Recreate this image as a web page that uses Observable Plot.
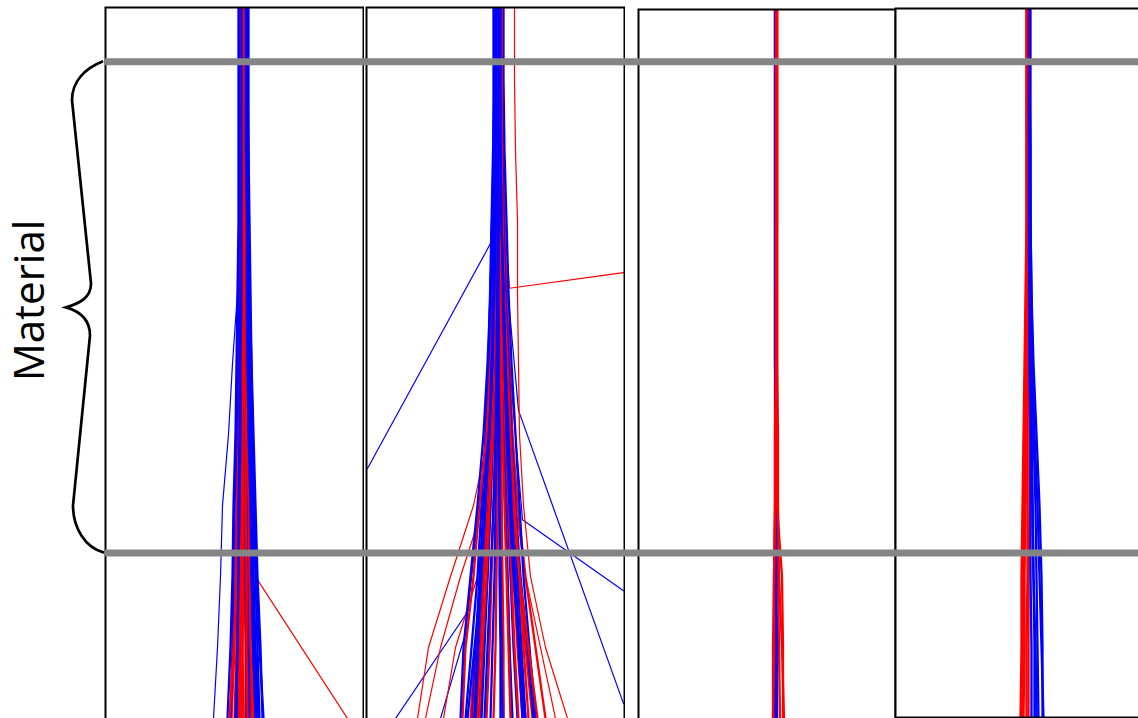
<!DOCTYPE html>
<html>
<head>
<meta charset="utf-8">
<script src="https://cdn.jsdelivr.net/npm/d3@7"></script>
<script src="https://cdn.jsdelivr.net/npm/@observablehq/plot@0.6"></script>
<style>
  html, body { margin: 0; padding: 0; background: #fff; overflow: hidden; }
  #chart { position: relative; width: 1138px; height: 718px; overflow: hidden; background: #fff; }
  .panel { position: absolute; overflow: visible; }
  .panel svg { max-width: none !important; }
  svg.overlay { position: absolute; left: 0; top: 0; pointer-events: none; max-width: none !important; }
</style>
</head>
<body>
<div id="chart"></div>
<script>
// ---------- data (depth grid shared by all profiles) ----------
const depths = [0, 10, 20, 30, 40, 50, 60, 70, 80, 90, 100];
const boundaryDepths = [7.5, 76.7];
const layerLabel = "Material";
const labelDepth = 41.1;

// horizontal offset of each profile from its panel centre, at each depth
const panel1Red = [
  [6, 6, 6, 6, 5, 4, 3, 2, 1, 0, -3],
  [7, 7, 7, 7, 7, 6, 6, 5, 4, 3, 1],
  [8, 8, 8, 8, 9, 8, 8, 7, 7, 6, 5],
  [8, 8, 9, 9, 10, 10, 11, 11, 12, 13, 14],
  [9, 9, 9, 10, 10, 11, 12, 13, 14, 15, 17],
  [7, 7, 7, 6, 6, 5, 5, 4, 3, 2, 0],
  [8, 8, 8, 9, 9, 9, 10, 10, 10, 11, 11],
  [10, 10, 10, 11, 11, 12, 13, 14, 15, 16, 19],
  [6, 7, 7, 7, 8, 8, 9, 9, 9, 8, 7],
  [9, 9, 9, 9, 9, 8, 7, 6, 6, 5, 4],
  [7, 7, 8, 8, 8, 7, 6, 4, 2, -1, -5],
  [8, 8, 8, 8, 8, 8, 8, 8, 8, 8, 9],
  [7, 7, 7, 7, 7, 7, 7, 6, 6, 5, 5],
  [9, 9, 9, 10, 10, 10, 11, 11, 12, 12, 13]
];
const panel1Blue = [
  [10, 10, 10, 10, 11, 12, 14, 15, 16, 18, 20],
  [12, 12, 12, 13, 14, 16, 17, 19, 21, 23, 25],
  [13, 13, 14, 14, 15, 17, 18, 20, 22, 25, 29],
  [5, 5, 5, 5, 4, 3, 2, 0, -1, -2, -4],
  [11, 11, 11, 11, 12, 12, 13, 13, 14, 14, 15],
  [8, 8, 8, 8, 8, 7, 7, 6, 5, 5, 3],
  [4, 4, 4, 4, 3, 2, 1, -1, -2, -4, -7],
  [12, 12, 12, 12, 13, 14, 15, 17, 18, 20, 22],
  [9, 9, 9, 9, 10, 10, 10, 11, 11, 12, 12],
  [14, 14, 14, 15, 16, 17, 19, 21, 23, 26, 28],
  [11, 11, 11, 12, 12, 13, 14, 16, 17, 19, 21],
  [6, 6, 6, 6, 6, 5, 5, 4, 4, 3, 2],
  [13, 13, 13, 13, 14, 15, 16, 18, 19, 21, 24],
  [7, 7, 7, 7, 7, 6, 6, 5, 4, 3, 1]
];
const panel2Red = [
  [0, 0, 0, -1, -2, -4, -6, -10, -14, -20, -25],
  [2, 2, 2, 2, 1, 0, -2, -5, -8, -12, -15],
  [3, 3, 3, 3, 3, 3, 2, 2, 1, 0, -2],
  [4, 4, 5, 5, 6, 7, 8, 10, 12, 14, 16],
  [5, 5, 5, 6, 7, 9, 11, 14, 18, 22, 27],
  [6, 6, 7, 8, 9, 11, 14, 18, 23, 30, 37],
  [1, 1, 1, 0, -2, -5, -9, -16, -22, -30, -33],
  [7, 7, 8, 9, 11, 14, 17, 22, 30, 40, 50],
  [3, 3, 2, 1, 0, -2, -4, -7, -11, -15, -19],
  [4, 4, 4, 4, 5, 5, 6, 6, 7, 8, 8],
  [6, 6, 6, 7, 8, 10, 13, 17, 24, 33, 42],
  [3, 3, 3, 2, 1, -1, -3, -6, -9, -13, -17],
  [5, 5, 6, 6, 7, 8, 10, 13, 16, 19, 23],
  [2, 2, 2, 2, 2, 1, 0, -2, -4, -6, -9],
  [4, 4, 4, 5, 5, 6, 7, 9, 11, 13, 15],
  [1, 1, 1, 1, 0, -2, -5, -9, -13, -18, -22],
  [6, 6, 6, 7, 9, 12, 15, 19, 24, 28, 33]
];
const panel2Blue = [
  [-2, -2, -2, -3, -5, -7, -10, -14, -18, -24, -30],
  [0, 0, 0, -1, -3, -5, -8, -12, -16, -20, -23],
  [1, 1, 1, 1, 0, -1, -3, -5, -8, -11, -14],
  [2, 2, 2, 2, 2, 2, 1, 0, -1, -3, -5],
  [3, 3, 3, 4, 4, 5, 5, 6, 6, 7, 8],
  [4, 4, 4, 5, 6, 8, 9, 12, 15, 18, 22],
  [5, 5, 6, 7, 9, 11, 14, 18, 22, 26, 30],
  [6, 6, 7, 8, 10, 13, 16, 20, 25, 32, 38],
  [8, 8, 9, 11, 13, 16, 20, 24, 28, 34, 40],
  [-1, -1, -2, -3, -5, -8, -12, -18, -25, -32, -35],
  [1, 1, 0, -1, -2, -4, -6, -9, -13, -17, -20],
  [3, 3, 4, 5, 6, 7, 8, 10, 12, 14, 17],
  [2, 2, 2, 1, 0, -2, -5, -9, -14, -21, -28],
  [5, 5, 5, 6, 7, 9, 11, 14, 18, 24, 30],
  [2, 2, 2, 3, 3, 3, 4, 4, 4, 5, 5],
  [3, 3, 3, 3, 2, 1, 0, -2, -5, -8, -11],
  [4, 4, 5, 6, 8, 10, 12, 15, 19, 23, 27],
  [0, 0, 0, 0, -1, -3, -6, -10, -14, -18, -21],
  [1, 1, 1, 2, 2, 3, 3, 4, 5, 6, 7],
  [5, 5, 5, 6, 8, 10, 13, 16, 20, 24, 29]
];
const panel3Red = [
  [10, 10, 10, 10, 10, 10, 10, 9, 9, 8, 7],
  [10, 10, 10, 10, 10, 10, 10, 10, 11, 12, 13],
  [10, 10, 10, 10, 10, 10, 11, 11, 12, 15, 17],
  [9, 9, 9, 9, 9, 9, 9, 8, 7, 6, 6],
  [10, 10, 10, 10, 10, 10, 10, 10, 15, 16, 16],
  [10, 10, 10, 10, 9, 9, 8, 8, 7, 7, 6]
];
const panel3Blue = [
  [8, 8, 8, 8, 8, 8, 8, 8, 9, 9, 9],
  [9, 9, 9, 9, 9, 9, 9, 9, 9, 10, 10],
  [8, 8, 8, 8, 8, 8, 9, 9, 9, 8, 8]
];
const panel4Red = [
  [2, 2, 2, 2, 1, 0, -1, -2, -3, -3, -4],
  [3, 3, 3, 3, 3, 2, 2, 1, 0, 0, -1],
  [4, 4, 4, 4, 4, 4, 3, 3, 3, 2, 2],
  [3, 3, 3, 3, 2, 2, 1, 0, -1, -2, -3],
  [4, 4, 4, 5, 5, 5, 5, 5, 4, 4, 4],
  [2, 2, 2, 2, 2, 1, 0, -1, -2, -2, -2]
];
const panel4Blue = [
  [4, 4, 5, 5, 6, 8, 10, 13, 15, 17, 19],
  [5, 5, 5, 6, 7, 8, 9, 11, 12, 13, 14],
  [4, 4, 4, 5, 5, 6, 7, 8, 9, 10, 10],
  [5, 5, 6, 6, 7, 9, 12, 15, 17, 18, 18],
  [3, 3, 4, 4, 5, 5, 6, 6, 6, 7, 7],
  [6, 6, 6, 6, 6, 7, 7, 8, 9, 11, 12]
];
// profiles that leave the bundle (own depth readings, drawn thin)
const panel1Outliers = [
  {series: "red",  depth: [0, 30, 50, 70, 79.6, 100], offset: [6, 8, 10, 14, 19, 113]},
  {series: "blue", depth: [0, 10, 20, 30, 40, 50, 60, 70, 80, 90, 100], offset: [10, 9, 7, 5, 3, -2, -6, -12, -14, -17, -21]}
];
const panel2Outliers = [
  {series: "blue", depth: [0, 20, 33.1, 64.8], offset: [0, -1, -5, -128]},
  {series: "red",  depth: [0, 20, 39.4, 37.2], offset: [3, 4, 14, 128]},
  {series: "blue", depth: [0, 30, 56.6, 97.9], offset: [2, 6, 23, 128]},
  {series: "blue", depth: [0, 40, 72.0, 82.0], offset: [1, 8, 27, 128]},
  {series: "blue", depth: [0, 60, 85.0, 100], offset: [1, -8, -28, -100]},
  {series: "blue", depth: [0, 60, 88.0, 100], offset: [0, -9, -30, -55]},
  {series: "red",  depth: [0, 10, 20, 30, 40, 50, 60, 70, 80, 90, 100], offset: [2, 2, 2, 1, -1, -3, -7, -22, -45, -67, -78]},
  {series: "red",  depth: [0, 10, 20, 30, 40, 50, 60, 70, 80, 90, 100], offset: [4, 4, 4, 3, 2, 0, -3, -12, -35, -55, -70]},
  {series: "red",  depth: [0, 10, 20, 30, 40, 50, 60, 70, 80, 90, 100], offset: [5, 5, 5, 6, 7, 9, 12, 20, 30, 45, 60]},
  {series: "red",  depth: [0, 10, 20, 30, 40, 50, 60, 70, 80, 90, 100], offset: [19, 19, 20, 22, 22, 23, 24, 28, 35, 50, 72]},
  {series: "red",  depth: [0, 10, 20, 30, 40, 50, 60, 70, 80, 90, 100], offset: [1, 1, 1, 1, 0, -1, -3, -8, -18, -40, -52]}
];

// ---------- build tidy rows ----------
function gridRows(red, blue, tag) {
  const rows = [];
  const n = Math.max(red.length, blue.length);
  for (let i = 0; i < n; i++) {
    for (const [series, set] of [["red", red], ["blue", blue]]) {
      if (!set[i]) continue;
      set[i].forEach((v, j) => rows.push({id: `${tag}-${series}-${i}`, series, depth: depths[j], offset: v}));
    }
  }
  return rows;
}
function outlierRows(list, tag) {
  const rows = [];
  list.forEach((o, i) => o.depth.forEach((d, j) => rows.push({id: `${tag}-o-${i}`, series: o.series, depth: d, offset: o.offset[j]})));
  return rows;
}

const panels = [
  {core: gridRows(panel1Red, panel1Blue, "p1"), thin: outlierRows(panel1Outliers, "p1"), left: 104, top: 6, width: 260, height: 720},
  {core: gridRows(panel2Red, panel2Blue, "p2"), thin: outlierRows(panel2Outliers, "p2"), left: 365, top: 6, width: 260, height: 720},
  {core: gridRows(panel3Red, panel3Blue, "p3"), thin: [], left: 637, top: 8, width: 259, height: 720},
  {core: gridRows(panel4Red, panel4Blue, "p4"), thin: [], left: 894, top: 7, width: 260, height: 711}
];

const chart = document.getElementById("chart");

for (const p of panels) {
  const half = p.width / 2 - 1;
  const svg = Plot.plot({
    width: p.width,
    height: p.height,
    margin: 1,
    style: {background: "transparent", overflow: "hidden", maxWidth: "none"},
    x: {domain: [-half, half], axis: null},
    y: {domain: [0, 100], range: [8 - p.top, 718 - p.top], axis: null},
    color: {domain: ["red", "blue"], range: ["#ff0000", "#0000ff"]},
    marks: [
      Plot.line(p.thin, {x: "offset", y: "depth", z: "id", stroke: "series", strokeWidth: 1.2, clip: true}),
      Plot.line(p.core, {x: "offset", y: "depth", z: "id", stroke: "series", strokeWidth: 2.3, clip: true}),
      Plot.frame({stroke: "black", strokeWidth: 2})
    ]
  });
  const div = document.createElement("div");
  div.className = "panel";
  div.style.left = p.left + "px";
  div.style.top = p.top + "px";
  div.style.width = p.width + "px";
  div.style.height = p.height + "px";
  div.appendChild(svg);
  chart.appendChild(div);
}

// overlay: layer boundaries, brace and label
const overlay = Plot.plot({
  width: 1138,
  height: 718,
  marginLeft: 105,
  marginRight: 0,
  marginTop: 8,
  marginBottom: 0,
  style: {background: "transparent", overflow: "visible"},
  x: {domain: [0, 1], axis: null},
  y: {domain: [0, 100], range: [8, 718], axis: null},
  marks: [
    Plot.ruleY(boundaryDepths, {stroke: "#858585", strokeWidth: 7}),
    Plot.text([layerLabel], {y: labelDepth, frameAnchor: "left", dx: -75, rotate: -90, fontSize: 42, fontFamily: "Open Sans", fill: "black", textAnchor: "middle"})
  ]
});
// curly brace spanning the two boundaries (positions from the y scale)
const ys = overlay.scale("y");
const y1 = ys.apply(boundaryDepths[0]), y2 = ys.apply(boundaryDepths[1]);
const ym = y1 + (y2 - y1) * 0.501;
const path = document.createElementNS("http://www.w3.org/2000/svg", "path");
path.setAttribute("d",
  `M103,${y1} C85,${y1 + 7} 72,${y1 + 20} 72,${y1 + 39} ` +
  `L91,${ym - 24} C91,${ym - 10} 80,${ym - 4} 66,${ym} ` +
  `C80,${ym + 4} 90,${ym + 12} 90,${ym + 28} ` +
  `L73,${y2 - 47} C73,${y2 - 25} 85,${y2 - 5} 104,${y2}`);
path.setAttribute("fill", "none");
path.setAttribute("stroke", "black");
path.setAttribute("stroke-width", "2.7");
overlay.appendChild(path);
overlay.classList.add("overlay");
chart.appendChild(overlay);
</script>
</body>
</html>
